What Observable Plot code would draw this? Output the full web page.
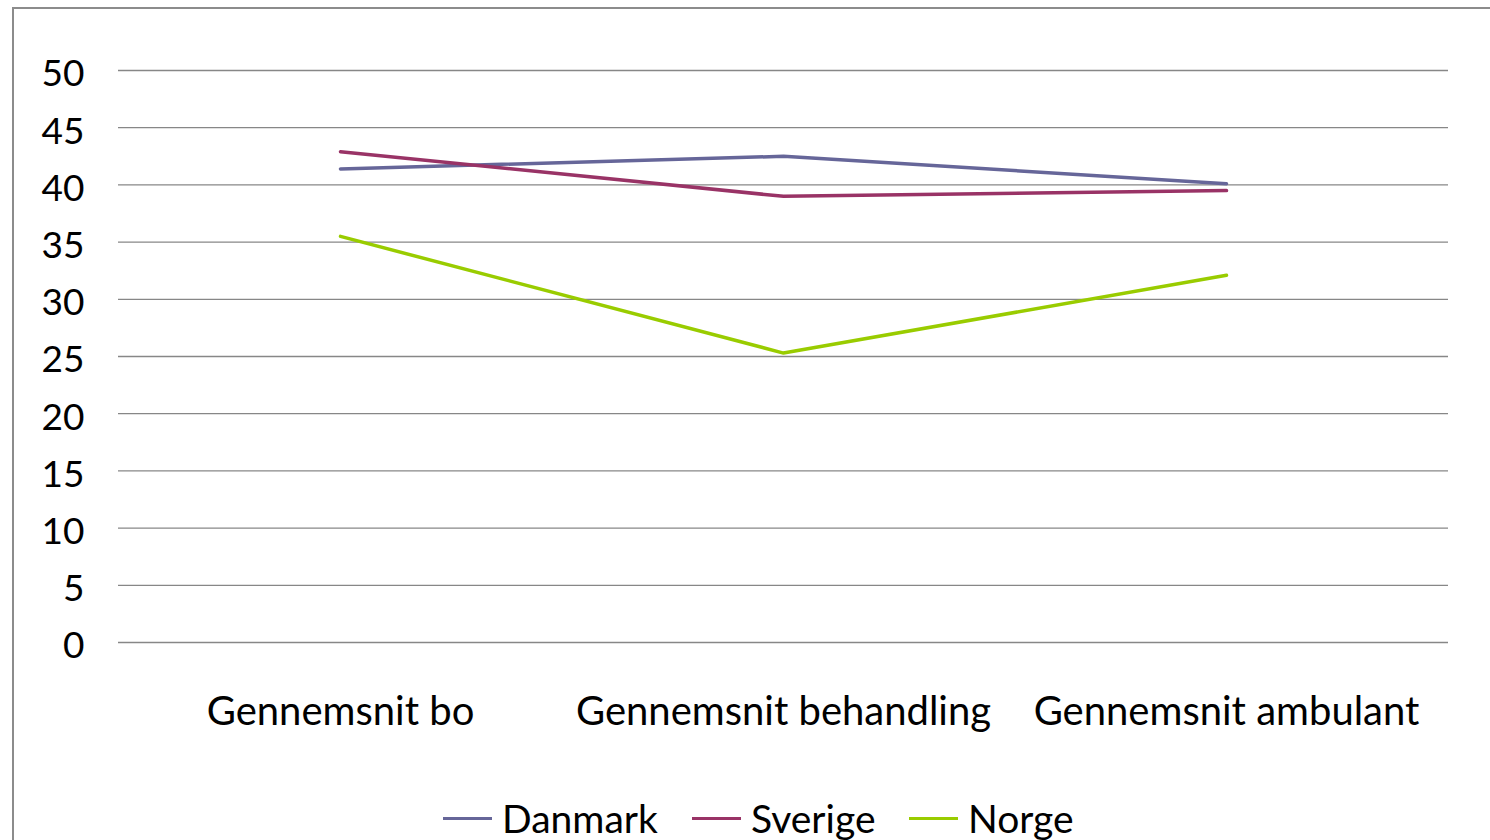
<!DOCTYPE html>
<html>
<head>
<meta charset="utf-8">
<script src="https://cdn.jsdelivr.net/npm/d3@7"></script>
<script src="https://cdn.jsdelivr.net/npm/@observablehq/plot@0.6"></script>
<style>
  html, body { margin: 0; padding: 0; background: #fff; overflow: hidden; }
  body { width: 1490px; height: 840px; position: relative; font-family: Lato, "Open Sans", sans-serif; }
  #frame { position: absolute; left: 12px; top: 7px; width: 1500px; height: 900px;
           border-left: 2px solid #8c8c8c; border-top: 2px solid #8c8c8c; box-sizing: border-box; }
  #chart { position: absolute; left: 0; top: 0; }
  #legend { position: absolute; left: 0; top: 783px; width: 1490px; height: 70px; }
  .item { position: absolute; top: 0; height: 70px; display: flex; align-items: center; font-size: 39px; color: #000; }
  .swatch { width: 49px; height: 3px; margin-right: 10px; }
</style>
</head>
<body>
<div id="frame"></div>
<div id="chart"></div>
<div id="legend"></div>
<script>
const categories = ["Gennemsnit bo", "Gennemsnit behandling", "Gennemsnit ambulant"];
const seriesNames = ["Danmark", "Sverige", "Norge"];
const seriesColors = ["#666699", "#993366", "#99CC00"];
const danmark = [41.4, 42.5, 40.1];
const sverige = [42.9, 39.0, 39.5];
const norge = [35.5, 25.3, 32.1];
const yTicks = [0, 5, 10, 15, 20, 25, 30, 35, 40, 45, 50];
const legendLeft = [443, 692, 909];

const seriesValues = [danmark, sverige, norge];
const rows = [];
seriesNames.forEach((s, i) => categories.forEach((c, j) => rows.push({series: s, category: c, value: seriesValues[i][j]})));

const chart = Plot.plot({
  width: 1490,
  height: 770,
  marginLeft: 118,
  marginRight: 42,
  marginTop: 70,
  marginBottom: 128,
  style: {fontFamily: "Lato, 'Open Sans', sans-serif", background: "transparent", color: "#000"},
  x: {type: "point", domain: categories, padding: 0.5, label: null},
  y: {domain: [0, 50], ticks: yTicks, label: null},
  color: {domain: seriesNames, range: seriesColors},
  marks: [
    Plot.gridY(yTicks, {stroke: "#878787", strokeOpacity: 1, strokeWidth: 1.3}),
    Plot.axisY(yTicks, {tickSize: 0, tickPadding: 34, fontSize: 37, dy: 4, label: null, textAnchor: "end"}),
    Plot.axisX({tickSize: 0, tickPadding: 54, fontSize: 40, label: null}),
    Plot.line(rows, {x: "category", y: "value", z: "series", stroke: "series", strokeWidth: 3.5, strokeLinejoin: "miter"})
  ]
});
document.getElementById("chart").appendChild(chart);

const legend = document.getElementById("legend");
seriesNames.forEach((s, i) => {
  const item = document.createElement("div");
  item.className = "item";
  item.style.left = legendLeft[i] + "px";
  const sw = document.createElement("div");
  sw.className = "swatch";
  sw.style.background = seriesColors[i];
  const t = document.createElement("span");
  t.textContent = s;
  item.appendChild(sw);
  item.appendChild(t);
  legend.appendChild(item);
});
</script>
</body>
</html>
